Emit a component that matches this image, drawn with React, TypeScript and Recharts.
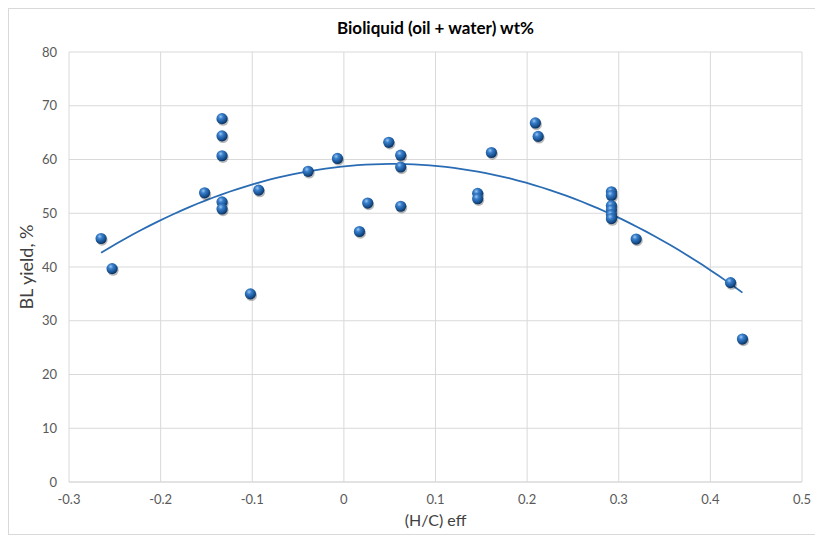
import React from "react";
import { ScatterChart, Scatter, XAxis, YAxis, CartesianGrid, Label } from "recharts";

// Effective H/C ratio of each run
const hcEff = [
  -0.265, -0.253, -0.133, -0.133, -0.133, -0.152, -0.133, -0.133,
  -0.093, -0.102, -0.039, -0.007, 0.017, 0.049, 0.062, 0.062,
  0.026, 0.062, 0.146, 0.146, 0.161, 0.209, 0.212, 0.292,
  0.292, 0.292, 0.292, 0.292, 0.292, 0.319, 0.422, 0.435,
];

// Bioliquid (oil + water) yield of each run, wt%
const blYield = [
  45.3, 39.7, 67.6, 64.4, 60.7, 53.8, 52.1, 50.8,
  54.3, 35.0, 57.8, 60.2, 46.6, 63.2, 60.8, 58.6,
  51.9, 51.3, 53.7, 52.7, 61.3, 66.8, 64.3, 54.0,
  53.3, 51.4, 50.6, 49.7, 49.0, 45.2, 37.1, 26.6,
];

const xTicks = [-0.3, -0.2, -0.1, 0, 0.1, 0.2, 0.3, 0.4, 0.5];
const yTicks = [0, 10, 20, 30, 40, 50, 60, 70, 80];

const points = hcEff.map((x, i) => ({ x, y: blYield[i] }));

// Second-order polynomial least-squares trendline over the data range
function quadFit(xs: number[], ys: number[]) {
  const s = [0, 0, 0, 0, 0];
  const t = [0, 0, 0];
  xs.forEach((x, i) => {
    let p = 1;
    for (let k = 0; k < 5; k++) {
      s[k] += p;
      if (k < 3) t[k] += p * ys[i];
      p *= x;
    }
  });
  const m = [
    [s[0], s[1], s[2], t[0]],
    [s[1], s[2], s[3], t[1]],
    [s[2], s[3], s[4], t[2]],
  ];
  for (let c = 0; c < 3; c++) {
    for (let r = c + 1; r < 3; r++) {
      const f = m[r][c] / m[c][c];
      for (let k = c; k < 4; k++) m[r][k] -= f * m[c][k];
    }
  }
  const coef = [0, 0, 0];
  for (let r = 2; r >= 0; r--) {
    let v = m[r][3];
    for (let k = r + 1; k < 3; k++) v -= m[r][k] * coef[k];
    coef[r] = v / m[r][r];
  }
  return coef;
}

const [c0, c1, c2] = quadFit(hcEff, blYield);
const xMin = Math.min(...hcEff);
const xMax = Math.max(...hcEff);
const trend = Array.from({ length: 81 }, (_, i) => {
  const x = xMin + ((xMax - xMin) * i) / 80;
  return { x, y: c0 + c1 * x + c2 * x * x };
});

const FONT = "Lato, 'Open Sans', sans-serif";

const Sphere = (props: any) => {
  const { cx, cy } = props;
  if (cx == null || cy == null) return null;
  return (
    <g>
      <circle cx={cx + 1} cy={cy + 1.6} r={5.6} fill="rgba(0,0,0,0.28)" />
      <circle cx={cx} cy={cy} r={5.6} fill="url(#sphereFill)" />
    </g>
  );
};

const NoDot = () => null;

export default function App() {
  return (
    <div
      style={{
        position: "absolute",
        left: 8,
        top: 8,
        width: 806,
        height: 525,
        borderTop: "1px solid #d9d9d9",
        borderLeft: "1px solid #d9d9d9",
        borderBottom: "1px solid #d9d9d9",
        background: "#fff",
        fontFamily: FONT,
      }}
    >
      <svg width={0} height={0} style={{ position: "absolute" }}>
        <defs>
          <radialGradient id="sphereFill" cx="38%" cy="32%" r="70%">
            <stop offset="0%" stopColor="#9cc8f2" />
            <stop offset="30%" stopColor="#3a7fcb" />
            <stop offset="75%" stopColor="#16508f" />
            <stop offset="100%" stopColor="#0a2d57" />
          </radialGradient>
        </defs>
      </svg>
      <div
        style={{
          position: "absolute",
          left: 0,
          width: 853,
          top: 8,
          textAlign: "center",
          fontSize: 17,
          fontWeight: 700,
          color: "#000",
        }}
      >
        Bioliquid (oil + water) wt%
      </div>
      <ScatterChart
        width={805}
        height={525}
        margin={{ top: 43, right: 12, bottom: 22, left: 0 }}
      >
        <CartesianGrid stroke="#d9d9d9" strokeWidth={1} />
        <XAxis
          type="number"
          dataKey="x"
          domain={[-0.3, 0.5]}
          ticks={xTicks}
          allowDataOverflow
          tickLine={false}
          axisLine={{ stroke: "#d9d9d9" }}
          tickMargin={7}
          height={30}
          tick={{ fill: "#595959", fontSize: 13, fontFamily: FONT }}
        >
          <Label
            value="(H/C) eff"
            position="bottom"
            offset={3}
            style={{ fill: "#404040", fontSize: 16, fontFamily: FONT }}
          />
        </XAxis>
        <YAxis
          type="number"
          dataKey="y"
          domain={[0, 80]}
          ticks={yTicks}
          allowDataOverflow
          tickLine={false}
          axisLine={false}
          tickMargin={6}
          width={60}
          tick={{ fill: "#595959", fontSize: 13, fontFamily: FONT }}
        >
          <Label
            value="BL yield, %"
            angle={-90}
            position="insideLeft"
            offset={18}
            style={{ textAnchor: "middle", fill: "#404040", fontSize: 18, fontFamily: FONT }}
          />
        </YAxis>
        <Scatter
          data={trend}
          line={{ stroke: "#2a6cb3", strokeWidth: 1.8 }}
          lineType="joint"
          shape={NoDot}
          isAnimationActive={false}
        />
        <Scatter data={points} shape={Sphere} isAnimationActive={false} />
      </ScatterChart>
    </div>
  );
}
